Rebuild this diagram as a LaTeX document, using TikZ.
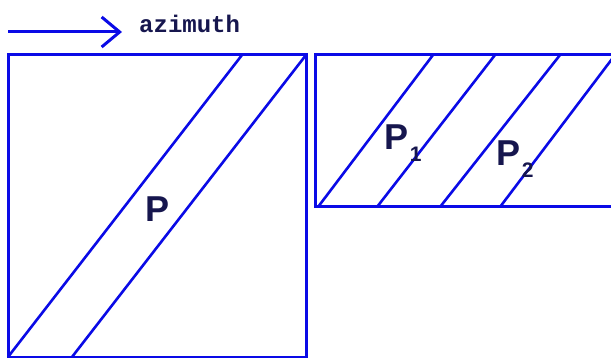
\documentclass[tikz,border=0pt]{standalone}
\usepackage{fontspec}
\setsansfont{Liberation Sans}
\setmonofont{Liberation Mono}
\usetikzlibrary{positioning, arrows.meta}
\definecolor{stripeblue}{RGB}{10,10,230}
\definecolor{labelnavy}{RGB}{22,22,78}

\begin{document}
\begin{tikzpicture}[
  x=1pt, y=-1pt,
  % outline style
  outline/.style={stripeblue, line width=3pt},
  % stripe boundary style
  stripe/.style={stripeblue, line width=2.6pt},
  % big patch labels
  patchlabel/.style={labelnavy, font=\fontsize{36}{38}\selectfont\sffamily\bfseries, inner sep=0pt},
  % subscripts of the patch labels
  sublabel/.style={labelnavy, font=\fontsize{21}{22}\selectfont\sffamily\bfseries,
    inner sep=0pt, anchor=north west}
]

\useasboundingbox (0,0) rectangle (611,358);

% ─── Azimuth arrow ─────────────────────────────────────────────────────────
\node[labelnavy, font=\fontsize{24}{26}\selectfont\ttfamily\bfseries,
      anchor=west, inner sep=0pt] (az_label) at (139,24) {azimuth};
\coordinate (az_start) at (8,32);
\coordinate (az_end) at (122,32);
\draw[outline, -{Straight Barb[length=18pt, width=30pt]}] (az_start) -- (az_end);

% ─── Left square with one stripe P ─────────────────────────────────────────
\coordinate (sq_sw) at (8,357);
\coordinate (sq_ne) at (306,55);
\draw[outline] (sq_sw) rectangle (sq_ne);
\draw[stripe] (sq_sw) -- (242,55);
\draw[stripe] (72,357) -- (sq_ne);
\node[patchlabel] (p_main) at (158,209) {P};

% ─── Right strip with stripes P1, P2 ───────────────────────────────────────
\coordinate (rect_nw) at (315,55);
\coordinate (rect_sw) at (315,207);
\draw[outline] (614,55) -- (rect_nw) -- (rect_sw) -- (614,207);
\begin{scope}
  \clip (rect_nw) rectangle (611,207);
  \foreach \xb/\xt in {318/433, 377/495, 440/560, 500/615}
    \draw[stripe] (\xb,207) -- (\xt,55);
\end{scope}
\node[patchlabel] (p_one) at (397,137) {P};
\node[sublabel] (p_one_sub) at ([xshift=0.5pt, yshift=3pt]p_one.south east) {1};
\node[patchlabel] (p_two) at (509,153) {P};
\node[sublabel] (p_two_sub) at ([xshift=0.5pt, yshift=3pt]p_two.south east) {2};

\end{tikzpicture}
\end{document}
